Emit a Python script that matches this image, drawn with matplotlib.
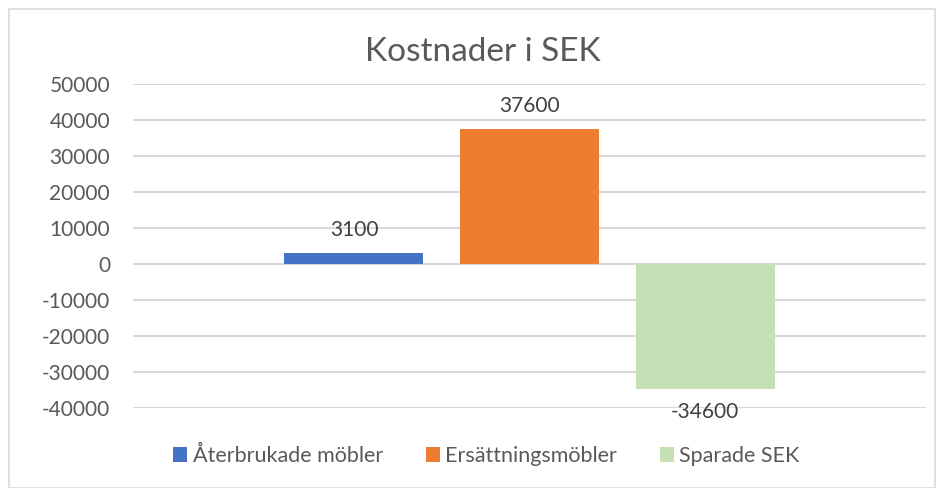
import matplotlib
matplotlib.use("Agg")
import matplotlib.pyplot as plt
from matplotlib.patches import Rectangle, Patch

categories = ["Återbrukade möbler", "Ersättningsmöbler", "Sparade SEK"]
values = [3100, 37600, -34600]
colors = ["#4472C4", "#ED7D31", "#C5E0B4"]
yticks = [-40000, -30000, -20000, -10000, 0, 10000, 20000, 30000, 40000, 50000]

plt.rcParams['font.family'] = ['Lato', 'DejaVu Sans']
W, H = 943, 488
fig = plt.figure(figsize=(W/100, H/100), dpi=100)
fig.patches.append(Rectangle((9/W, 0), (935-9)/W, (488-9)/H, transform=fig.transFigure,
                             fill=False, edgecolor="#D9D9D9", linewidth=1.2))

left, right, top, bottom = 133, 926, 84, 408
ax = fig.add_axes([left/W, 1-bottom/H, (right-left)/W, (bottom-top)/H])
x = list(range(len(values)))
ax.bar(x, values, width=0.792, color=colors, zorder=3)
ax.set_ylim(-40000, 50000)
ax.set_xlim(-1.259, 3.259)
ax.set_yticks(yticks)
ax.set_yticklabels([str(v) for v in yticks], fontsize=15, color="#595959")
ax.tick_params(axis='y', length=0, pad=16.5)
ax.set_xticks([])
for s in ax.spines.values():
    s.set_visible(False)
ax.grid(axis='y', color="#D9D9D9", linewidth=1.5, zorder=0)

for xi, v in zip(x, values):
    if v >= 0:
        ax.annotate(str(v), (xi, v), xytext=(0, 9), textcoords='offset points',
                    ha='center', va='bottom', fontsize=15, color="#404040")
    else:
        ax.annotate(str(v), (xi, v), xytext=(0, -10), textcoords='offset points',
                    ha='center', va='top', fontsize=15, color="#404040")

fig.text(482.5/W, 1-52/H, "Kostnader i SEK", ha='center', va='center', fontsize=24, color="#595959")

handles = [Patch(facecolor=c, edgecolor='none') for c in colors]
fig.legend(handles, categories, loc='center', bbox_to_anchor=(486.5/W, 1-456/H), ncol=3,
           frameon=False, fontsize=15.5, labelcolor="#595959", handlelength=0.65, handleheight=0.65,
           handletextpad=0.25, columnspacing=2.0)

fig.savefig("out.png", dpi=100)
